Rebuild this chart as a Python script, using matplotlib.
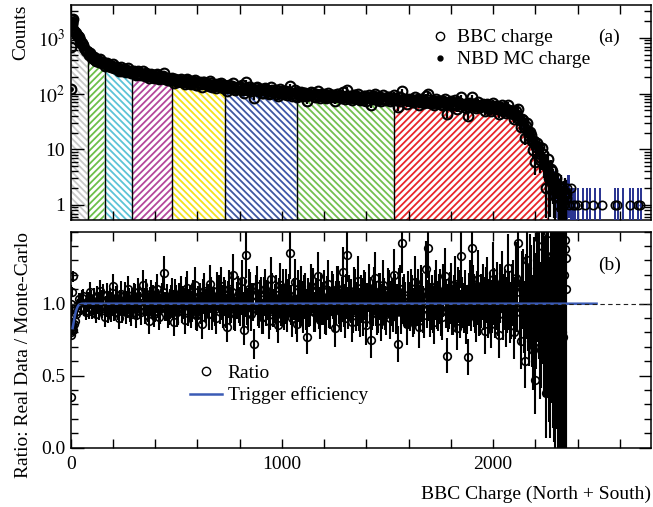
import numpy as np
import matplotlib
matplotlib.use('Agg')
import matplotlib.pyplot as plt
from matplotlib.lines import Line2D
from matplotlib.ticker import MultipleLocator, LogLocator, NullFormatter

plt.rcParams['font.family'] = ['Liberation Serif', 'DejaVu Serif']
plt.rcParams['mathtext.fontset'] = 'stix'
plt.rcParams['font.size'] = 14
plt.rcParams['hatch.linewidth'] = 1.3

# ---- data ----
# BBC charge bin positions (fine bins at the very start, then every 10)
charge = list(range(0, 10)) + list(range(10, 2341, 10)) + [2342, 2344, 2346]

# NBD MC charge, counts per bin
mc_counts = [
    120, 1950, 2150, 2200, 2180, 2120, 2050, 1980, 1900, 1830,
    1700, 1450, 1200, 1000, 850, 720, 620, 545, 495, 460,
    430, 408, 390, 376, 362, 347, 336, 325, 315, 306,
    298, 290, 283, 276, 269, 263, 257, 251, 245, 240,
    236, 232, 228, 224, 220, 216, 213, 210, 207, 204,
    201, 198, 194, 191, 188, 185, 182, 178, 176, 174,
    172, 170, 168, 166, 165, 163, 161, 159, 158, 156,
    154, 152, 150, 149, 147, 145, 143, 142, 140, 138,
    137, 135, 133, 131, 130, 129, 128, 127, 126, 125,
    124, 123, 122, 121, 120, 119, 118, 117, 116, 115,
    114, 113, 112, 111, 110, 109, 108, 107, 106, 105,
    104, 103, 102, 101, 100, 99, 99, 98, 98, 97,
    97, 96, 96, 95, 95, 94, 94, 93, 93, 92,
    92, 91, 91, 90, 90, 90, 89, 89, 88, 88,
    88, 87, 87, 87, 86, 86, 86, 85, 85, 85,
    84, 84, 84, 83, 83, 83, 82, 82, 82, 81,
    81, 81, 80, 80, 79, 79, 78, 78, 77, 77,
    76, 76, 75, 75, 74, 74, 73, 73, 72, 72,
    71, 71, 70, 70, 69, 69, 68, 68, 67, 67,
    66, 66, 65, 65, 64, 64, 63, 63, 62, 62,
    61, 61, 60, 60, 59, 59, 58, 58, 57, 57,
    56, 56, 55, 54, 53, 52, 50, 48, 46, 44,
    41, 38, 34, 30, 27, 23, 20, 17, 14.5, 12.5,
    10.5, 9, 7.5, 6.3, 5.3, 4.4, 3.6, 3, 2.5, 2,
    1.7, 1.5, 1.3, 1.2,
    1.2, 1.2, 1.2,
]

# Real data / Monte-Carlo ratio per bin
ratio = [
    1.00, 0.35, 0.78, 0.80, 0.82, 0.86, 0.96, 1.08, 0.84, 1.19,
    0.82, 0.88, 0.95, 1.03, 0.97, 1.05, 0.94, 1.02, 1.08, 0.96,
    1.04, 0.93, 1.00, 1.09, 0.97, 0.91, 1.06, 1.01, 0.95, 1.12,
    0.98, 1.03, 0.90, 1.07, 1.00, 0.94, 1.10, 0.96, 1.02, 1.05,
    0.92, 1.08, 0.99, 1.13, 0.95, 1.01, 0.88, 1.06, 1.03, 0.97,
    1.10, 0.91, 1.04, 1.21, 0.98, 0.93, 1.00, 1.07, 0.87, 1.02,
    0.96, 1.08, 1.01, 0.89, 1.11, 0.99, 0.94, 1.05, 1.13, 0.92,
    1.03, 0.86, 1.09, 0.98, 1.02, 1.14, 0.93, 1.00, 0.90, 1.07,
    1.12, 0.95, 1.04, 0.84, 1.10, 0.99, 1.20, 0.93, 1.06, 0.97,
    1.16, 0.82, 1.34, 0.94, 1.08, 1.01, 0.72, 1.12, 0.96, 1.05,
    0.91, 1.10, 1.03, 0.88, 1.17, 0.97, 1.06, 0.85, 1.13, 1.00,
    0.95, 1.09, 1.03, 1.35, 0.90, 1.15, 0.86, 1.02, 1.11, 0.93,
    1.06, 0.77, 0.98, 1.12, 0.94, 1.03, 1.19, 0.89, 1.00, 1.08,
    0.92, 1.14, 0.97, 1.05, 0.83, 1.10, 1.01, 0.95, 1.22, 0.90,
    1.34, 1.04, 0.87, 1.09, 0.96, 1.16, 0.91, 1.02, 1.07, 0.85,
    1.11, 0.75, 1.00, 1.18, 0.93, 1.05, 0.88, 1.13, 0.97, 1.08,
    0.90, 1.02, 1.20, 0.94, 0.72, 1.10, 1.42, 1.04, 0.86, 0.99,
    1.07, 0.92, 1.15, 1.01, 0.84, 1.09, 0.96, 1.24, 1.39, 0.93,
    1.03, 0.87, 1.12, 0.98, 1.06, 0.91, 1.19, 0.64, 1.00, 1.10,
    0.95, 1.14, 0.83, 1.05, 1.33, 0.97, 0.88, 0.63, 1.11, 1.39,
    1.02, 0.90, 1.17, 0.96, 1.08, 0.81, 1.12, 0.99, 0.86, 1.21,
    0.94, 1.09, 0.78, 1.15, 1.01, 0.88, 1.25, 0.92, 1.06, 0.80,
    1.18, 1.42, 0.74, 1.10, 0.60, 1.30, 0.85, 1.05, 0.68, 0.47,
    1.25, 0.70, 1.40, 0.85, 0.38, 1.49, 0.56, 1.33, 0.80, 1.50,
    0.59, 1.33, 0.77, 1.44,
    1.38, 1.32, 1.10,
]

# interleaved bins half way between the ones above
charge_b = list(range(15, 2336, 10))
mc_counts_b = [
    1580, 1320, 1100, 920, 780, 670, 580, 520, 478, 445,
    419, 399, 383, 369, 355, 341, 330, 320, 310, 302,
    294, 286, 279, 272, 266, 260, 254, 248, 242, 238,
    234, 230, 226, 222, 218, 214, 211, 208, 205, 202,
    199, 196, 192, 189, 186, 183, 180, 177, 175, 173,
    171, 169, 167, 165, 164, 162, 160, 158, 157, 155,
    153, 151, 149, 148, 146, 144, 142, 141, 139, 137,
    136, 134, 132, 130, 129, 128, 127, 126, 125, 124,
    123, 122, 121, 120, 119, 118, 117, 116, 115, 114,
    113, 112, 111, 110, 109, 108, 107, 106, 105, 104,
    103, 102, 101, 100, 99, 99, 98, 98, 97, 97,
    96, 96, 95, 95, 94, 94, 93, 93, 92, 92,
    91, 91, 90, 90, 90, 89, 89, 88, 88, 88,
    87, 87, 87, 86, 86, 85, 85, 85, 84, 84,
    84, 83, 83, 83, 82, 82, 82, 81, 81, 81,
    81, 80, 80, 79, 79, 78, 78, 77, 77, 76,
    76, 75, 75, 74, 74, 73, 73, 72, 72, 71,
    71, 70, 70, 69, 69, 68, 68, 67, 67, 66,
    66, 65, 65, 64, 64, 63, 63, 62, 62, 61,
    61, 60, 60, 59, 59, 58, 58, 57, 57, 56,
    56, 55, 54, 53, 52, 51, 49, 47, 45, 42,
    40, 36, 32, 28, 25, 21, 18, 16, 13.5, 11.5,
    9.8, 8.2, 6.9, 5.8, 4.8, 4.0, 3.3, 2.7, 2.2, 1.8,
    1.6, 1.4, 1.25,
]
ratio_b = [
    0.86, 0.93, 0.99, 1.01, 1.04, 0.97, 1.00, 0.95, 1.03, 0.99,
    0.97, 1.05, 0.96, 1.02, 1.06, 0.98, 0.94, 1.03, 1.00, 0.96,
    1.04, 0.97, 1.01, 0.95, 1.06, 0.99, 1.02, 0.93, 1.00, 1.04,
    0.98, 1.03, 0.94, 1.01, 1.07, 0.97, 1.02, 0.99, 0.93, 1.05,
    1.00, 0.96, 1.08, 0.98, 1.03, 0.95, 1.02, 0.99, 1.06, 0.94,
    1.03, 0.97, 1.00, 1.07, 0.95, 1.02, 0.98, 1.04, 0.92, 1.01,
    0.97, 1.05, 0.99, 1.02, 0.93, 1.06, 1.00, 0.96, 1.09, 0.98,
    1.01, 1.06, 0.95, 1.03, 0.98, 1.08, 0.94, 1.02, 0.99, 1.05,
    0.96, 1.04, 0.98, 1.10, 0.93, 1.01, 1.06, 0.97, 1.03, 0.91,
    1.05, 0.98, 1.02, 0.95, 1.07, 1.00, 0.93, 1.04, 0.98, 1.09,
    1.00, 0.94, 1.06, 0.99, 1.03, 0.92, 1.08, 0.97, 1.01, 1.05,
    0.96, 1.03, 0.99, 1.09, 0.94, 1.02, 0.97, 1.06, 1.00, 0.93,
    1.04, 0.98, 1.07, 0.95, 1.01, 1.10, 0.96, 1.03, 0.99, 1.05,
    0.97, 1.02, 0.94, 1.08, 1.00, 0.96, 1.04, 0.92, 1.06, 0.99,
    1.03, 0.97, 1.09, 1.00, 0.95, 1.05, 0.98, 1.02, 0.93, 1.07,
    1.00, 0.96, 1.04, 0.98, 1.08, 0.94, 1.02, 0.99, 1.06, 0.97,
    1.03, 0.95, 1.01, 1.07, 0.97, 1.04, 0.92, 1.00, 1.05, 0.98,
    0.96, 1.06, 0.99, 1.03, 0.94, 1.09, 1.00, 0.97, 1.04, 0.95,
    1.02, 0.98, 1.07, 0.93, 1.01, 1.05, 0.96, 1.03, 0.99, 1.08,
    0.97, 1.04, 0.95, 1.02, 1.00, 1.06, 0.94, 1.03, 0.98, 1.05,
    1.01, 0.96, 1.07, 0.93, 1.04, 0.99, 1.02, 0.95, 1.08, 0.97,
    1.03, 0.94, 1.10, 0.91, 1.05, 0.97, 1.12, 0.88, 1.06, 0.95,
    1.10, 0.85, 1.20, 0.92, 1.00, 0.75, 1.33, 1.00, 0.67, 1.25,
    1.00, 0.80, 1.20,
]

# single-count bins in the far tail
tail_data_x = [2350, 2360, 2370, 2380, 2390, 2400, 2435, 2472, 2515, 2577, 2586, 2648, 2686, 2696]
tail_data = [2, 1, 2, 1, 1, 1, 1, 1, 1, 1, 1, 1, 1, 1]
tail_mc_x = [2350, 2355, 2360, 2370, 2380, 2390, 2402, 2426, 2444, 2459, 2483, 2506,
             2577, 2591, 2614, 2648, 2662, 2686, 2700]
tail_mc = [1, 2, 2, 1, 1, 1, 1, 1, 1, 1, 1, 1, 1, 1, 1, 1, 1, 1, 1]

# centrality classes (bin edges), colours and hatch directions
class_edges = [0, 80, 160, 290, 480, 730, 1070, 1530, 2260]
class_colors = ['#c8c8c8', '#6cbf4a', '#5cc3d8', '#b4479c', '#f2e21e',
                '#3d57a8', '#72c050', '#e8262a']
class_hatch = ['\\\\\\\\\\', '/////', '\\\\\\\\\\', '/////', '\\\\\\\\\\',
               '\\\\\\\\\\', '\\\\\\\\\\', '/////']

# trigger efficiency curve
eff_x = [9, 15, 20, 25, 30, 35, 40, 50, 60, 2490]
eff = [0.83, 0.88, 0.92, 0.95, 0.97, 0.985, 0.993, 0.999, 1.0, 1.0]

x = np.array(charge, dtype=float)
mc = np.array(mc_counts, dtype=float)
xa = np.concatenate([x, charge_b])
mca = np.concatenate([mc, mc_counts_b])
ra = np.concatenate([ratio, ratio_b])
data = mca * ra
r_err = ra * np.sqrt(1.0 / data + 1.0 / mca)

fig = plt.figure(figsize=(6.53, 5.07), dpi=100)
ax1 = fig.add_axes([0.1083, 0.5655, 0.8894, 0.4252])
ax2 = fig.add_axes([0.1083, 0.1170, 0.8894, 0.4260])

# ---- (a) counts ----
ax1.set_yscale('log')
for lo, hi, col, hat in zip(class_edges[:-1], class_edges[1:], class_colors, class_hatch):
    sel = (x >= lo) & (x <= hi)
    ax1.fill_between(x[sel], 0.1, mc[sel], facecolor='none', edgecolor=col,
                     hatch=hat, linewidth=0, zorder=1)
edge_tops = [mc[charge.index(e)] for e in class_edges[1:]]
ax1.vlines(class_edges[1:], 0.1, edge_tops, colors='k', lw=1.0, zorder=2)

ax1.errorbar(xa, mca, yerr=np.sqrt(mca), fmt='none', ecolor='#27318f', elinewidth=1.2, zorder=3)
ax1.errorbar(tail_mc_x, tail_mc, yerr=np.sqrt(tail_mc), fmt='none', ecolor='#27318f',
             elinewidth=1.4, zorder=3)
ax1.plot(xa, mca, 'o', color='k', ms=2.5, zorder=3)
ax1.errorbar(xa, data, yerr=np.sqrt(data), fmt='o', mfc='none', mec='k', mew=1.5, ms=7,
             ecolor='k', elinewidth=1.6, zorder=4)
ax1.plot(tail_data_x, tail_data, 'o', mfc='none', mec='k', mew=1.2, ms=6, zorder=4)

ax1.set_xlim(0, 2750)
ax1.set_ylim(0.53, 3950)
ax1.set_yticks([1, 10, 100, 1000], ['1', '10', '$10^{2}$', '$10^{3}$'])
ax1.yaxis.set_minor_locator(LogLocator(base=10, subs=np.arange(2, 10)))
ax1.yaxis.set_minor_formatter(NullFormatter())
ax1.set_ylabel('Counts', loc='top')
ax1.yaxis.set_label_coords(-0.071, 1.0)

h1 = [Line2D([], [], marker='o', ls='none', mfc='none', mec='k', mew=1.0, ms=6),
      Line2D([], [], marker='o', ls='none', color='k', ms=3.5)]
ax1.legend(h1, ['BBC charge', 'NBD MC charge'], loc='upper left',
           bbox_to_anchor=(0.619, 0.888), frameon=False, borderpad=0,
           borderaxespad=0, handlelength=1.0, handletextpad=0.4, labelspacing=0.22)
ax1.text(0.927, 0.85, '(a)', transform=ax1.transAxes, ha='center', va='center')

# ---- (b) ratio ----
ax2.errorbar(xa, ra, yerr=r_err, fmt='o', mfc='none', mec='k', mew=1.2, ms=5.5,
             ecolor='k', elinewidth=1.5, zorder=2)
ax2.plot(eff_x, eff, color='#3b5bb5', lw=1.8, zorder=4)
ax2.axhline(1.0, color='#222222', lw=0.8, ls=(0, (4, 3)), zorder=5)

ax2.set_xlim(0, 2750)
ax2.set_ylim(0, 1.5)
ax2.set_yticks([0.0, 0.5, 1.0], ['0.0', '0.5', '1.0'])
ax2.yaxis.set_minor_locator(MultipleLocator(0.1))
ax2.set_ylabel('Ratio: Real Data / Monte-Carlo', loc='top')
ax2.yaxis.set_label_coords(-0.066, 1.0)
ax2.set_xlabel('BBC Charge (North + South)', loc='right', labelpad=9)

h2 = [Line2D([], [], marker='o', ls='none', mfc='none', mec='k', mew=1.0, ms=6),
      Line2D([], [], color='#3b5bb5', lw=1.8)]
ax2.legend(h2, ['Ratio', 'Trigger efficiency'], loc='upper left',
           bbox_to_anchor=(0.205, 0.387), frameon=False, borderpad=0,
           borderaxespad=0, handlelength=1.65, handletextpad=0.3, labelspacing=0.25)
ax2.text(0.927, 0.846, '(b)', transform=ax2.transAxes, ha='center', va='center')

for ax in (ax1, ax2):
    ax.xaxis.set_major_locator(MultipleLocator(1000))
    ax.xaxis.set_minor_locator(MultipleLocator(200))
    ax.tick_params(which='both', direction='in', top=True, right=True, width=1.0)
    ax.tick_params(axis='x', which='both', length=6.5, pad=6)
    ax.tick_params(axis='y', which='major', length=9, pad=4)
    ax.tick_params(axis='y', which='minor', length=5)
    for s in ax.spines.values():
        s.set_linewidth(1.1)
ax1.tick_params(axis='x', labelbottom=False)

fig.savefig('out.png', dpi=100)
